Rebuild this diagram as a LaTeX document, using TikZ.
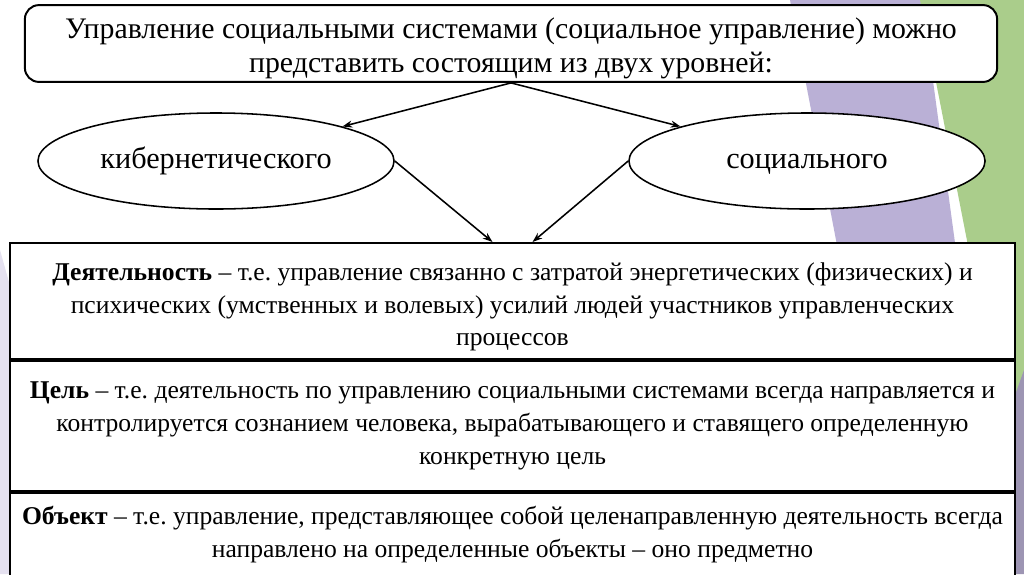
\documentclass[tikz,border=0pt]{standalone}
\usepackage{fontspec}
\setmainfont{Liberation Serif}
\usetikzlibrary{positioning,shapes.geometric,arrows.meta}
\definecolor{lavender}{RGB}{186,176,214}
\definecolor{leaf}{RGB}{170,205,139}
\definecolor{dusk}{RGB}{157,149,179}
\definecolor{mist}{RGB}{229,225,240}
\frenchspacing
\newcommand{\lift}[1]{\rule{0pt}{#1}}
\tikzset{
  titlebox/.style={draw, line width=1.4pt, rounded corners=10pt, fill=white,
    minimum width=24.3cm, minimum height=1.92cm, inner ysep=0pt, align=center,
    font=\fontsize{21.2}{24}\selectfont},
  level/.style={draw, ellipse, line width=1.1pt, fill=white, minimum width=8.9cm,
    minimum height=2.4cm, text height=14pt, text depth=4pt, font=\fontsize{21.5}{24}\selectfont},
  row/.style={draw, line width=1.4pt, fill=white, minimum width=25.125cm,
    align=center, inner sep=0pt, font=\fontsize{18.2}{23.3}\selectfont},
  link/.style={-{Stealth[length=7pt,width=5pt]}, line width=1.1pt}
}
\begin{document}
\begin{tikzpicture}[x=0.025cm,y=-0.025cm]
	\useasboundingbox (0,0) rectangle (1024,574);
	% background of the slide
	\fill[white] (0,0) rectangle (1024,574);
	\fill[mist] (0,250) -- (14,300) -- (14,574) -- (0,574) -- cycle;
	\fill[lavender] (790,0) -- (922,0) -- (1000,574) -- (900,574) -- cycle;
	\fill[leaf] (920,0) -- (1024,0) -- (1024,380) -- (1004,430) -- cycle;
	\fill[dusk] (1024,370) -- (1024,574) -- (1006,574) -- (1006,420) -- cycle;

	\node[titlebox] (title) at (511,43.5) {\lift{22pt}Управление социальными системами (социальное управление) можно\\представить состоящим из двух уровней:};
	\node[level] (kib) at (216,161) {кибернетического};
	\node[level] (soc) at (807,161) {социального};

	\node[row, minimum height=116*0.025cm, anchor=north] (act) at (512.5,242) {\lift{21pt}\textbf{Деятельность} – т.е. управление связанно с затратой энергетических (физических) и\\психических (умственных и волевых) усилий людей участников управленческих\\процессов};
	\node[row, minimum height=130*0.025cm, below=0pt of act] (goal) {\textbf{Цель} – т.е. деятельность по управлению социальными системами всегда направляется и\\контролируется сознанием человека, вырабатывающего и ставящего определенную\\конкретную цель};
	\node[row, minimum height=84*0.025cm, below=0pt of goal] (obj) {\textbf{Объект} – т.е. управление, представляющее собой целенаправленную деятельность всегда\\направлено на определенные объекты – оно предметно};

	\draw[link] (title.south) -- (kib.north east);
	\draw[link] (title.south) -- (soc.north west);
	\draw[link] (kib.east) -- ([xshift=-0.5cm]act.north);
	\draw[link] (soc.west) -- ([xshift=0.5cm]act.north);
\end{tikzpicture}
\end{document}
